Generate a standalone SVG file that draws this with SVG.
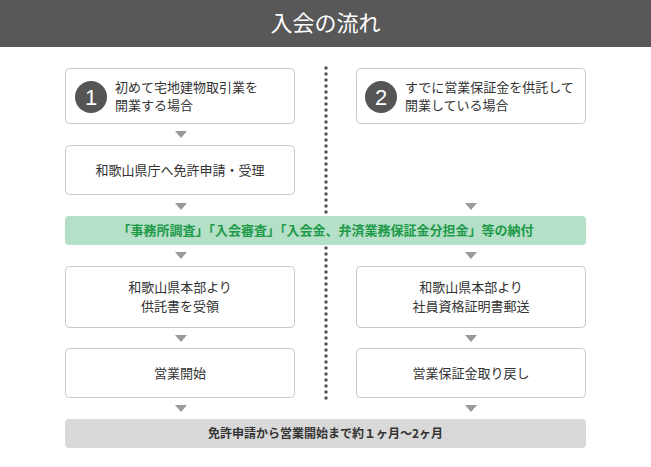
<svg xmlns="http://www.w3.org/2000/svg" width="651" height="467" viewBox="0 0 651 467">
<style>
.b{fill:#fff;stroke:#c8c8c8;stroke-width:1}
.t{font-family:"Noto Sans CJK JP",sans-serif;font-size:13px;fill:#333}
.c{text-anchor:middle}
.a{fill:#9a9a9a}
</style>
<rect x="0" y="0" width="651" height="47" fill="#585858"/>
<text x="325.5" y="31" class="c" style="font-family:'Noto Sans CJK JP',sans-serif;font-size:22px;fill:#fff">入会の流れ</text>
<g id="connectors">
<line x1="326" y1="68" x2="326" y2="402" stroke="#555" stroke-width="3.5" stroke-dasharray="0 6" stroke-linecap="round"/>
<g class="a">
<polygon points="175,131 187,131 181,138"/><polygon points="175,203 187,203 181,210"/><polygon points="465,203 477,203 471,210"/>
<polygon points="175,252 187,252 181,259"/><polygon points="465,252 477,252 471,259"/>
<polygon points="175,335 187,335 181,342"/><polygon points="465,335 477,335 471,342"/>
<polygon points="175,405 187,405 181,412"/><polygon points="465,405 477,405 471,412"/>
</g>
</g>
<g id="n1"><rect class="b" x="65.5" y="68.5" width="229" height="55" rx="4"/>
<circle cx="91" cy="97" r="16" fill="#555"/><text x="91" y="105" class="c" style="font-family:'Liberation Sans',sans-serif;font-size:22px;fill:#fff">1</text>
<text x="115" y="92" class="t">初めて宅地建物取引業を</text><text x="115" y="110" class="t">開業する場合</text></g>
<g id="n2"><rect class="b" x="356.5" y="68.5" width="229" height="55" rx="4"/>
<circle cx="381" cy="97" r="16" fill="#555"/><text x="381" y="105" class="c" style="font-family:'Liberation Sans',sans-serif;font-size:22px;fill:#fff">2</text>
<text x="405" y="92" class="t">すでに営業保証金を供託して</text><text x="405" y="110" class="t">開業している場合</text></g>
<g id="n3"><rect class="b" x="65.5" y="145.5" width="229" height="49" rx="4"/><text x="180" y="175" class="t c">和歌山県庁へ免許申請・受理</text></g>
<g id="n4"><rect x="65" y="216" width="521" height="29" rx="4" fill="#b3e0c6"/><text x="325.5" y="235" class="c" style="font-family:'Noto Sans CJK JP',sans-serif;font-size:13px;font-weight:bold;fill:#1e9a4a">「事務所調査」「入会審査」「入会金、弁済業務保証金分担金」等の納付</text></g>
<g id="n5"><rect class="b" x="65.5" y="266.5" width="229" height="61" rx="4"/><text x="180" y="292" class="t c">和歌山県本部より</text><text x="180" y="311" class="t c">供託書を受領</text></g>
<g id="n6"><rect class="b" x="356.5" y="266.5" width="229" height="61" rx="4"/><text x="471" y="292" class="t c">和歌山県本部より</text><text x="471" y="311" class="t c">社員資格証明書郵送</text></g>
<g id="n7"><rect class="b" x="65.5" y="348.5" width="229" height="49" rx="4"/><text x="180" y="378" class="t c">営業開始</text></g>
<g id="n8"><rect class="b" x="356.5" y="348.5" width="229" height="49" rx="4"/><text x="471" y="378" class="t c">営業保証金取り戻し</text></g>
<g id="n9"><rect x="65" y="419" width="521" height="29" rx="4" fill="#d9d9d9"/><text x="325.5" y="438" class="c" style="font-family:'Noto Sans CJK JP',sans-serif;font-size:12px;font-weight:bold;fill:#333">免許申請から営業開始まで約１ヶ月～2ヶ月</text></g>
</svg>
